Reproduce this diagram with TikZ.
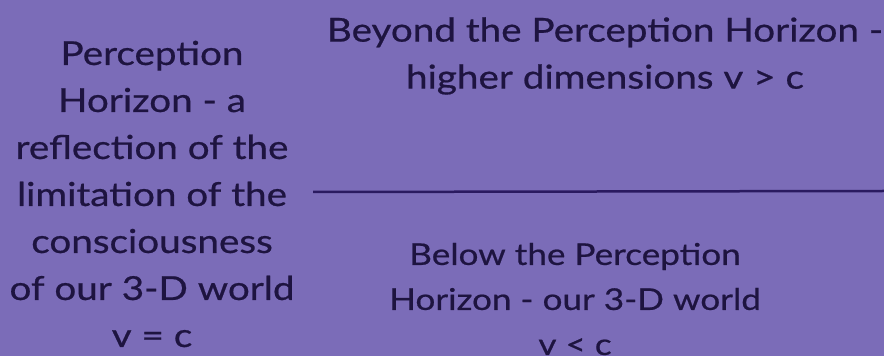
\documentclass[tikz,border=0pt]{standalone}
\usepackage{fontspec}
\setmainfont{Lato}[FakeStretch=1.17, FakeBold=0.6]
\definecolor{bgpurple}{HTML}{7B6CB8}
\definecolor{inkdark}{HTML}{1E1440}
\definecolor{linedark}{HTML}{2A1A60}
\begin{document}
\begin{tikzpicture}[x=1pt,y=1pt,
  txt/.style={inner sep=0pt, align=center, text=inkdark, font=\fontsize{33}{47}\selectfont},
  txtsmall/.style={txt, font=\fontsize{30}{45}\selectfont}]
\fill[bgpurple] (0,0) rectangle (884,356);
\useasboundingbox (0,0) rectangle (884,356);
\node[txt] (left) at (152,162) {Perception\\Horizon - a\\reflection of the\\limitation of the\\consciousness\\of our 3-D world\\v = c};
\node[txt] (top) at (605,300) {Beyond the Perception Horizon -\\higher dimensions v > c};
\node[txtsmall] (bottom) at (575,57) {Below the Perception\\Horizon - our 3-D world\\v < c};
\coordinate (l1) at (313,164);
\coordinate (l2) at (884,165);
\draw[linedark, line width=2.5pt] (l1) -- (l2);
\end{tikzpicture}
\end{document}
